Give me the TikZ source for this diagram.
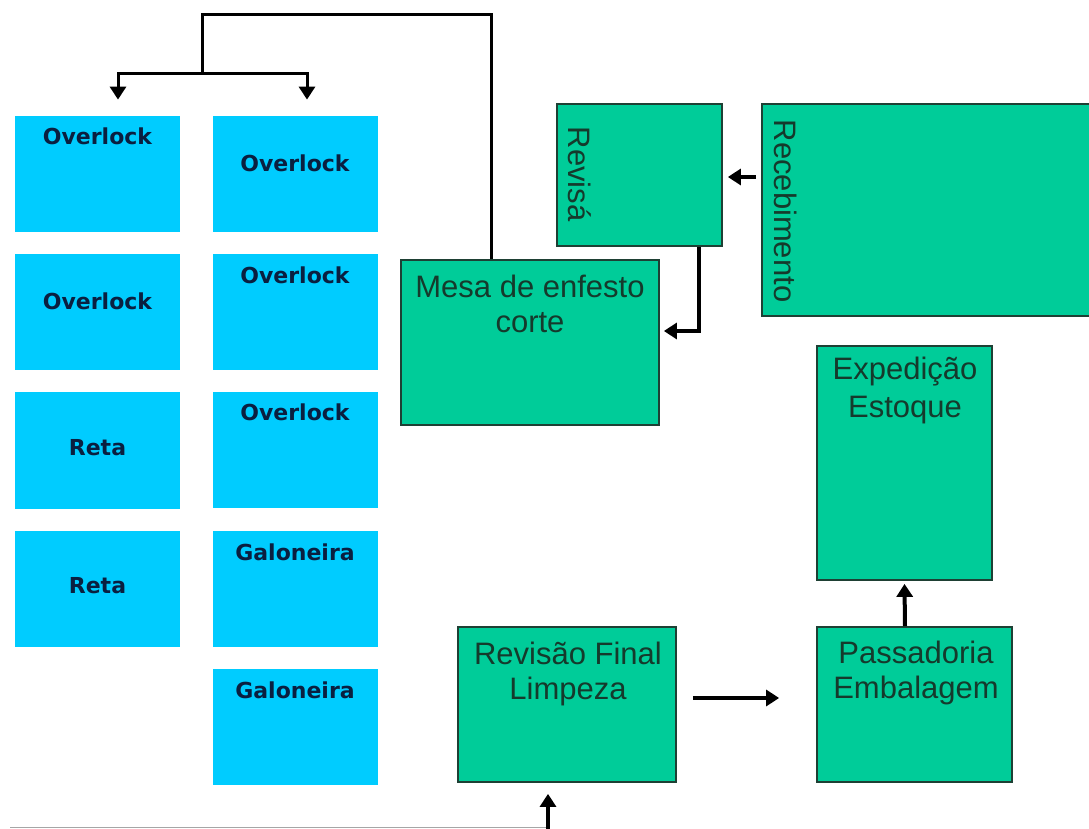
\documentclass[tikz,border=0pt]{standalone}
\usepackage{fontspec}
\setmainfont{Liberation Sans}
\newfontfamily\maqfont{DejaVu Sans}
\usetikzlibrary{arrows.meta}

\definecolor{azulmaq}{HTML}{00CCFF}
\definecolor{verdesetor}{HTML}{00CC99}
\definecolor{bordasetor}{HTML}{1E4034}
\definecolor{textomaq}{HTML}{0A1F40}
\definecolor{textosetor}{HTML}{153A2C}

\begin{document}
\begin{tikzpicture}[x=0.5pt, y=-0.5pt,
    maq/.style={fill=azulmaq, inner sep=0pt, minimum width=82.5pt, minimum height=58pt},
    maqtxt/.style={font=\maqfont\bfseries\fontsize{11}{13}\selectfont, text=textomaq,
      inner sep=0pt, text height=8pt, text depth=0pt},
    setor/.style={draw=bordasetor, line width=0.9pt, fill=verdesetor, inner sep=0pt},
    setortxt/.style={font=\fontsize{15.5}{17.5}\selectfont, text=textosetor, align=center, inner sep=0pt},
    liga/.style={line width=1.5pt},
    fluxo/.style={line width=2pt, -{Triangle[length=6.5pt,width=8pt]}}]
    \useasboundingbox (0,0) rectangle (1089,829);

    \node[maq] (m1) at (97.5,174) {};
    \node[maq] (m2) at (97.5,312.5) {};
    \node[maq] (m3) at (97.5,450.5) {};
    \node[maq] (m4) at (97.5,589) {};
    \node[maq] (n1) at (295,174) {};
    \node[maq] (n2) at (295,312.5) {};
    \node[maq] (n3) at (295,450) {};
    \node[maq] (n4) at (295,588.5) {};
    \node[maq] (n5) at (295,726.5) {};

    \node[maqtxt] (m1t) at (97.5,137) {Overlock};
    \node[maqtxt] (m2t) at (97.5,301) {Overlock};
    \node[maqtxt] (m3t) at (97.5,447) {Reta};
    \node[maqtxt] (m4t) at (97.5,585) {Reta};
    \node[maqtxt] (n1t) at (295,164) {Overlock};
    \node[maqtxt] (n2t) at (295,276) {Overlock};
    \node[maqtxt] (n3t) at (295,413) {Overlock};
    \node[maqtxt] (n4t) at (295,552) {Galoneira};
    \node[maqtxt] (n5t) at (295,690) {Galoneira};

    \node[setor, minimum width=129pt, minimum height=82.5pt] (mesa) at (530,342.5) {};
    \node[setor, minimum width=82.5pt, minimum height=71pt] (revisa) at (639.5,175) {};
    \node[setor, minimum width=169pt, minimum height=106pt] (receb) at (931,210) {};
    \node[setor, minimum width=87.5pt, minimum height=117pt] (exped) at (904.5,463) {};
    \node[setor, minimum width=97.5pt, minimum height=77.5pt] (passad) at (914.5,704.5) {};
    \node[setor, minimum width=109pt, minimum height=77.5pt] (revfinal) at (567,704.5) {};

    \node[setortxt, anchor=north] (mesat) at (530,275) {Mesa de enfesto\\corte};
    \node[setortxt, rotate=-90] (revisat) at (580,174) {Revisá};
    \node[setortxt, rotate=-90] (recebt) at (786,211) {Recebimento};
    \node[setortxt, anchor=north] (expedt) at (905,357) {Expedição\\[1.5pt]Estoque};
    \node[setortxt, anchor=north] (passadt) at (916,641) {Passadoria\\Embalagem};
    \node[setortxt, anchor=north] (revfinalt) at (568,642) {Revisão Final\\Limpeza};

    \coordinate (topo) at (202,15);
    \coordinate (ramo) at (202,74);
    \coordinate (base) at (548,829);
    \coordinate (linha) at (10,827.5);

    \draw[liga] ([xshift=-19.5pt]mesa.north) |- (topo) -- (ramo);
    \draw[fluxo, line width=1.5pt] (ramo) -| ([xshift=10.25pt,yshift=8pt]m1.north);
    \draw[fluxo, line width=1.5pt] (ramo) -| ([xshift=6pt,yshift=8pt]n1.north);
    \draw[fluxo] ([xshift=-2.5pt,yshift=16.5pt]receb.west) -- ([xshift=2.5pt,yshift=-1pt]revisa.east);
    \draw[fluxo] ([xshift=29.75pt]revisa.south) |- ([xshift=2pt,yshift=5.75pt]mesa.east);
    \draw[fluxo] ([xshift=8pt,yshift=3.25pt]revfinal.east) -- ([xshift=-18.5pt,yshift=3.25pt]passad.west);
    \draw[fluxo] ([xshift=-4.75pt]passad.north) -- ([yshift=-1.5pt]exped.south);
    \draw[gray!70, line width=0.6pt] (linha) -- (base |- linha);
    \draw[fluxo] (base) -- ([xshift=-9.5pt,yshift=-5.5pt]revfinal.south);
  \end{tikzpicture}
\end{document}
